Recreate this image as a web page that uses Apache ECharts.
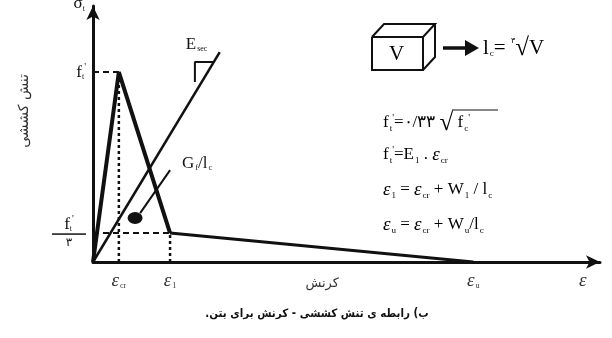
<!DOCTYPE html>
<html>
<head>
<meta charset="utf-8">
<script src="https://cdn.jsdelivr.net/npm/echarts@6/dist/echarts.min.js"></script>
<style>
  html, body { margin: 0; padding: 0; background: #fff; }
  #chart { width: 612px; height: 338px; }
</style>
</head>
<body>
<div id="chart"></div>
<script>
// schematic strain values (x) and stress values (y)
const epsCr = 5.1
const eps1 = 15.2
const epsU = 75.0
const strainWordPos = 45.2
const epsAxisPos = 96.6
const ft = 74.2
const ft3 = 11.3

// tension softening curve
const curveRise = [[0, 0], [epsCr, ft], [eps1, ft3]]
const curveTail = [[eps1, ft3], [epsU, 0]]
// secant modulus line and its slope mark
const secantLine = [[0, 0], [25.0, 82.0]]
const slopeMark = [[20.1, 70.3], [20.1, 78.1], [23.7, 78.1]]
// fracture energy marker
const gfDot = [[8.3, 17.2]]
const gfLeader = [[9.3, 19.1], [15.2, 35.9]]

const strainLabels = {}
strainLabels[epsCr] = '{e|ε}{s|cr}'
strainLabels[eps1] = '{e|ε}{s|1}'
strainLabels[epsU] = '{e|ε}{s|u}'
strainLabels[strainWordPos] = '{fa|\u202Bکرنش\u202C}'
strainLabels[epsAxisPos] = '{e|ε}'

const ink = '#111'
const serif = 'Liberation Serif'

const mathRich = {
  i: { fontFamily: serif, fontSize: 17, color: ink },
  v: { fontFamily: serif, fontSize: 21, color: ink },
  r: { fontFamily: serif, fontSize: 25, color: ink },
  g: { fontFamily: serif, fontSize: 19, fontStyle: 'italic', color: ink },
  s: { fontFamily: serif, fontSize: 9, color: ink, padding: [11, 0, 0, 1] },
  p: { fontFamily: serif, fontSize: 10, color: ink, padding: [0, 0, 10, 0] },
  k: { fontFamily: 'DejaVu Sans', fontSize: 8, color: ink, padding: [0, 0, 14, 0] }
}

function mathText (x, y, text) {
  return {
    type: 'text',
    x: x,
    y: y,
    style: { text: text, rich: mathRich, verticalAlign: 'middle', align: 'left' }
  }
}

function seg (pts, w, dash) {
  return {
    type: 'polyline',
    shape: { points: pts },
    style: { stroke: ink, lineWidth: w, fill: null, lineDash: dash || null }
  }
}

const chart = echarts.init(document.getElementById('chart'))

function lineSeries (data, width, type, extra) {
  return Object.assign({
    type: 'line',
    data: data,
    symbol: 'none',
    silent: true,
    animation: false,
    lineStyle: { color: ink, width: width, type: type || 'solid' }
  }, extra || {})
}

chart.setOption({
  backgroundColor: '#fff',
  animation: false,
  title: {
    text: '\u202Bب) رابطه ی تنش کششی - کرنش برای بتن.\u202C',
    left: 312,
    textAlign: 'center',
    top: 303,
    textStyle: { fontFamily: 'DejaVu Sans Condensed, DejaVu Sans', fontSize: 11.5, fontWeight: 'bold', color: ink }
  },
  grid: { left: 93, top: 6, right: 12, bottom: 76, containLabel: false, outerBoundsMode: 'none' },
  xAxis: {
    type: 'value',
    min: 0,
    max: 100,
    splitLine: { show: false },
    axisTick: { show: false },
    axisLine: {
      onZero: false,
      symbol: ['none', 'arrow'],
      symbolSize: [10, 14],
      lineStyle: { color: ink, width: 3 }
    },
    axisLabel: {
      customValues: [epsCr, eps1, strainWordPos, epsU, epsAxisPos],
      margin: 9,
      formatter: function (v) { return strainLabels[v] || '' },
      rich: {
        e: { fontFamily: serif, fontSize: 19, fontStyle: 'italic', color: '#333' },
        s: { fontFamily: serif, fontSize: 8, color: '#333', padding: [11, 0, 0, 1] },
        fa: { fontFamily: 'DejaVu Sans', fontSize: 13, color: '#333', padding: [6, 0, 0, 0] }
      }
    }
  },
  yAxis: {
    type: 'value',
    min: 0,
    max: 100,
    name: '{a|σ}{b|t}',
    nameLocation: 'end',
    nameGap: 2,
    nameTextStyle: {
      align: 'right',
      verticalAlign: 'middle',
      padding: [0, 8, 0, 0],
      rich: {
        a: { fontFamily: serif, fontSize: 17, color: ink },
        b: { fontFamily: serif, fontSize: 8, color: ink, padding: [9, 0, 0, 0] }
      }
    },
    splitLine: { show: false },
    axisTick: { show: false },
    axisLine: {
      onZero: false,
      symbol: ['none', 'arrow'],
      symbolSize: [10, 14],
      lineStyle: { color: ink, width: 3 }
    },
    axisLabel: {
      customValues: [ft3, ft],
      margin: 7,
      formatter: function (v) {
        if (v === ft) return '{f|f}{s|t}{p|\'}'
        return '{ff|f}{fs|t}{fp|\'}\n{hr|}\n{n|۳}'
      },
      rich: {
        f: { fontFamily: serif, fontSize: 17, color: ink },
        s: { fontFamily: serif, fontSize: 8, color: ink, padding: [10, 0, 0, 0] },
        p: { fontFamily: serif, fontSize: 10, color: ink, padding: [0, 0, 10, 0] },
        ff: { fontFamily: serif, fontSize: 17, color: ink, align: 'center' },
        fs: { fontFamily: serif, fontSize: 8, color: ink, padding: [10, 0, 0, 0], align: 'center' },
        fp: { fontFamily: serif, fontSize: 10, color: ink, padding: [0, 0, 10, 0], align: 'center' },
        hr: { width: 34, height: 0, borderColor: ink, borderWidth: 1, align: 'center' },
        n: { fontFamily: 'DejaVu Sans', fontSize: 12, color: ink, align: 'center', lineHeight: 18 }
      }
    }
  },
  graphic: [
    // cube with volume V
    seg([[372, 37], [423, 37], [423, 70], [372, 70], [372, 37]], 2),
    seg([[372, 37], [384, 24], [435, 24], [423, 37]], 2),
    seg([[435, 24], [435, 57], [423, 70]], 2),
    mathText(389, 54, '{v|V}'),
    seg([[443, 48], [470, 48]], 3.5),
    { type: 'polygon', shape: { points: [[465, 40], [479, 48], [465, 56]] }, style: { fill: ink } },
    mathText(483, 48, '{v|l}{s|c}{v|= }{k|۳}{r|√}{v|V}'),
    // formulas
    mathText(383, 123, '{i|f}{s|t}{p|\'}{i|=۰/۳۳ }{r|√}{i| f}{s|c}{p|\'}'),
    seg([[452, 110], [498, 110]], 1.2),
    mathText(383, 155, '{i|f}{s|t}{p|\'}{i|=E}{s|1}{i| . }{g|ε}{s|cr}'),
    mathText(383, 190, '{g|ε}{s|1}{i| = }{g|ε}{s|cr}{i| + W}{s|1}{i| / l}{s|c}'),
    mathText(383, 225, '{g|ε}{s|u}{i| = }{g|ε}{s|cr}{i| + W}{s|u}{i|/l}{s|c}'),
    // vertical axis title
    {
      type: 'text',
      x: 24,
      y: 111,
      rotation: Math.PI / 2,
      style: {
        text: '\u202Bتنش کششی\u202C',
        font: '14px "DejaVu Sans"',
        fill: '#333',
        align: 'center',
        verticalAlign: 'middle'
      }
    }
  ],
  series: [
    lineSeries([[0, ft], [epsCr, ft]], 2, [6, 4]),
    lineSeries([[epsCr, 0], [epsCr, ft]], 2.5, [3, 3]),
    lineSeries([[0, ft3], [eps1, ft3]], 2, [6, 4]),
    lineSeries([[eps1, 0], [eps1, ft3]], 2.5, [3, 3]),
    lineSeries(curveRise, 4),
    lineSeries(curveTail, 3),
    lineSeries(secantLine, 2.5, 'solid', {
      endLabel: {
        show: true,
        offset: [-42, -8],
        formatter: '{a|E}{b|sec}',
        rich: {
          a: { fontFamily: serif, fontSize: 17, color: ink },
          b: { fontFamily: serif, fontSize: 8, color: ink, padding: [10, 0, 0, 1] }
        }
      }
    }),
    lineSeries(slopeMark, 2),
    lineSeries(gfLeader, 2, 'solid', {
      endLabel: {
        show: true,
        offset: [4, -7],
        formatter: '{a|G}{b|f}{a|/l}{b|c}',
        rich: {
          a: { fontFamily: serif, fontSize: 17, color: ink },
          b: { fontFamily: serif, fontSize: 8, color: ink, padding: [10, 0, 0, 1] }
        }
      }
    }),
    {
      type: 'scatter',
      data: gfDot,
      symbol: 'circle',
      symbolSize: [15, 12],
      silent: true,
      itemStyle: { color: ink, opacity: 1 }
    }
  ]
})
</script>
</body>
</html>
